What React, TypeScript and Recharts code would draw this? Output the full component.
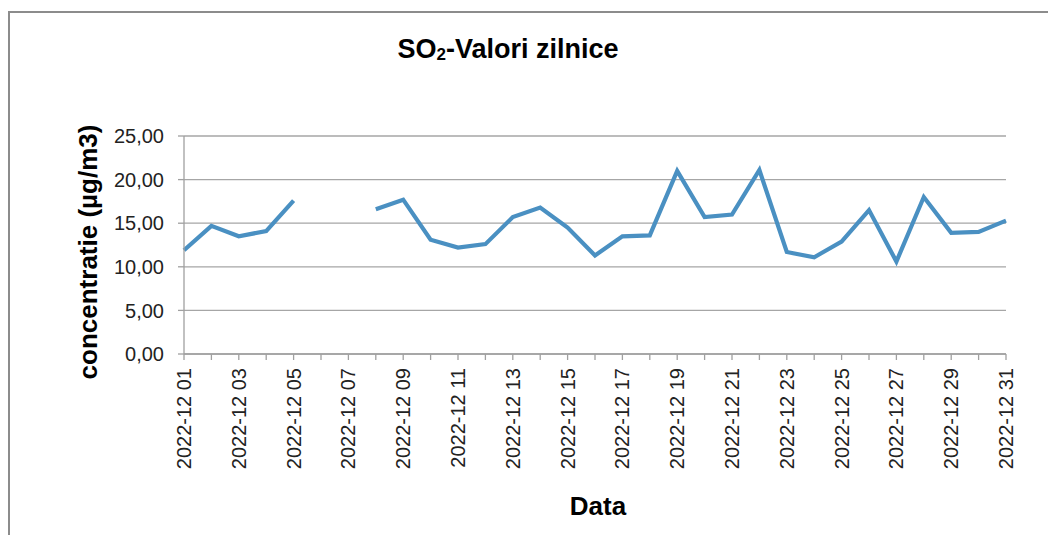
import React from 'react';
import { LineChart, Line, XAxis, YAxis, CartesianGrid } from 'recharts';

const dates: string[] = [
  '2022-12 01', '2022-12 02', '2022-12 03', '2022-12 04', '2022-12 05', '2022-12 06',
  '2022-12 07', '2022-12 08', '2022-12 09', '2022-12 10', '2022-12 11', '2022-12 12',
  '2022-12 13', '2022-12 14', '2022-12 15', '2022-12 16', '2022-12 17', '2022-12 18',
  '2022-12 19', '2022-12 20', '2022-12 21', '2022-12 22', '2022-12 23', '2022-12 24',
  '2022-12 25', '2022-12 26', '2022-12 27', '2022-12 28', '2022-12 29', '2022-12 30',
  '2022-12 31',
];

const so2Values: (number | null)[] = [
  11.9, 14.7, 13.5, 14.1, 17.6, null, null, 16.6, 17.7, 13.1, 12.2, 12.6,
  15.7, 16.8, 14.5, 11.3, 13.5, 13.6, 21.0, 15.7, 16.0, 21.1, 11.7, 11.1,
  12.9, 16.5, 10.6, 18.0, 13.9, 14.0, 15.3,
];

const yTicks: number[] = [0, 5, 10, 15, 20, 25];

const data = dates.map((d, i) => ({ date: d, so2: so2Values[i] }));

const FONT = '"Liberation Sans", Arial, sans-serif';

const XTick = (props: any) => {
  const { x, y, payload, index } = props;
  if (index % 2 !== 0) return <g />;
  return (
    <text
      x={x}
      y={y}
      transform={`rotate(-90, ${x}, ${y})`}
      textAnchor="end"
      dominantBaseline="central"
      fontSize={20}
      fontFamily={FONT}
      fill="#222"
    >
      {payload.value}
    </text>
  );
};

export default function App() {
  return (
    <div style={{ position: 'relative', width: 1048, height: 527, fontFamily: FONT }}>
      <div
        style={{
          position: 'absolute',
          left: 0,
          top: 3,
          width: 1046,
          height: 522,
          borderTop: '2px solid #8c8c8c',
          borderLeft: '2px solid #8c8c8c',
        }}
      />
      <div style={{ position: 'absolute', left: 0, top: 0 }}>
        <LineChart
          width={1048}
          height={527}
          data={data}
          margin={{ top: 128, right: 50, bottom: 61, left: 96 }}
        >
          <CartesianGrid vertical={false} stroke="#a6a6a6" strokeWidth={1.3} />
          <XAxis
            dataKey="date"
            interval={0}
            height={120}
            tick={<XTick />}
            tickSize={6}
            tickMargin={8}
            axisLine={{ stroke: '#a0a0a0', strokeWidth: 1.3 }}
            tickLine={{ stroke: '#a0a0a0', strokeWidth: 1.3 }}
          />
          <YAxis
            width={80}
            domain={[0, 25]}
            ticks={yTicks}
            interval={0}
            tickFormatter={(v: number) => v.toFixed(2).replace('.', ',')}
            tick={{ fontSize: 20, fill: '#222', fontFamily: FONT }}
            tickSize={6}
            tickMargin={14}
            axisLine={{ stroke: '#a0a0a0', strokeWidth: 1.3 }}
            tickLine={{ stroke: '#a0a0a0', strokeWidth: 1.3 }}
          />
          <Line
            type="linear"
            dataKey="so2"
            stroke="#4a90c2"
            strokeWidth={4.2}
            dot={false}
            activeDot={false}
            isAnimationActive={false}
          />
        </LineChart>
      </div>
      <svg
        width={1048}
        height={527}
        style={{ position: 'absolute', left: 0, top: 0, pointerEvents: 'none' }}
      >
        <text x={500} y={50} textAnchor="middle" fontSize={27} fontWeight="bold" fontFamily={FONT} fill="#000">
          SO
          <tspan fontSize={17} dy={2}>2</tspan>
          <tspan dy={-2}>-Valori  zilnice</tspan>
        </text>
        <text
          x={80}
          y={244}
          transform="rotate(-90, 80, 244)"
          textAnchor="middle"
          dominantBaseline="central"
          fontSize={26}
          fontWeight="bold"
          fontFamily={FONT}
          fill="#000"
        >
          concentratie (µg/m3)
        </text>
        <text x={590} y={507} textAnchor="middle" fontSize={26} fontWeight="bold" fontFamily={FONT} fill="#000">
          Data
        </text>
      </svg>
    </div>
  );
}
